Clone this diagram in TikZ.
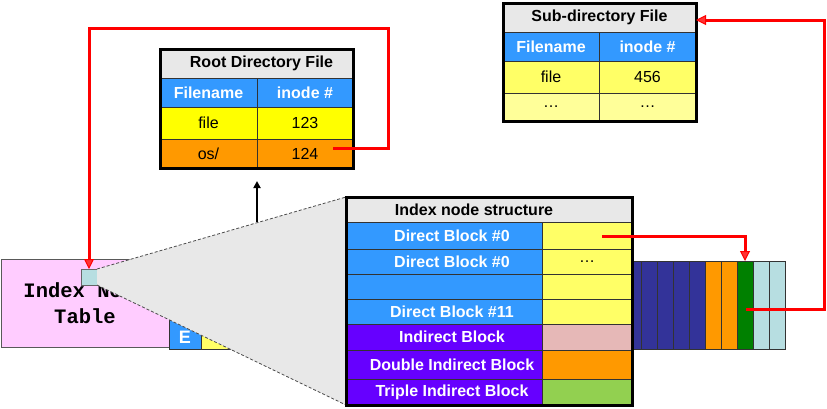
\documentclass[tikz,border=0pt]{standalone}
\usepackage{fontspec}
\setmainfont{Liberation Sans}
\newfontfamily\tablefont{Liberation Mono}
\usetikzlibrary{arrows.meta,positioning,calc}
\definecolor{cellblue}{HTML}{3399FF}
\definecolor{cellpurple}{HTML}{6600FF}
\definecolor{cellyellow}{HTML}{FFFF66}
\definecolor{rootyellow}{HTML}{FFFF00}
\definecolor{paleyellow}{HTML}{FFFF99}
\definecolor{cellpink}{HTML}{E6B8B7}
\definecolor{cellorange}{HTML}{FF9900}
\definecolor{cellgreen}{HTML}{92D050}
\definecolor{headgray}{HTML}{E8E8E8}
\definecolor{blockblue}{HTML}{333399}
\definecolor{blockgreen}{HTML}{008000}
\definecolor{blockcyan}{HTML}{B7DEE1}
\definecolor{tablepink}{HTML}{FFCCFF}
\definecolor{ptrred}{HTML}{FF0000}

\tikzset{
  cell/.style={draw=black!80, line width=0.8pt, inner sep=0pt, outer sep=0pt,
    font=\fontsize{16}{18}\selectfont},
  bcell/.style={cell, font=\fontsize{16}{18}\selectfont\bfseries},
  wcell/.style={bcell, text=white},
  frame/.style={draw=black, line width=3pt},
  ptr/.style={draw=ptrred, line width=3pt,
    -{Triangle[length=10pt,width=10pt,line width=1pt,fill=ptrred!80]}},
}

\begin{document}
\begin{tikzpicture}[x=1pt,y=-1pt]
\useasboundingbox (0,0) rectangle (827,408);

% --- Index node table (left) ---
\node[cell, draw=black!65, fill=tablepink, minimum width=168pt, minimum height=88pt, align=center,
  font=\fontsize{20.5}{26}\selectfont\tablefont\bfseries] (ipt) at (85,303) {Index Node\\Table};
\node[cell, fill=cellblue, minimum width=32pt, minimum height=88pt] (ecell) at (185,305) {};
\node[font=\fontsize{18}{20}\selectfont\bfseries, text=white] (etxt) at (185,337) {E};
\node[cell, fill=cellyellow, minimum width=32pt, minimum height=88pt] (ycell) at (217,305) {};

% selected entry
\node[cell, draw=black!60, line width=1pt, fill=blockcyan, minimum width=16pt, minimum height=16pt] (isq) at (89,277) {};

% --- Zoom cone ---
\coordinate (intl) at (346,197);
\coordinate (inbl) at (346,405);
\fill[headgray] (isq.north east) -- (intl) -- (inbl) -- (isq.south east) -- cycle;
\draw[black!70, line width=0.8pt, dash pattern=on 3pt off 2pt] (isq.north east) -- (intl);
\draw[black!70, line width=0.8pt, dash pattern=on 3pt off 2pt] (isq.south east) -- (inbl);

% --- Data blocks (right) ---
\foreach \c [count=\k from 0] in {blockblue,blockblue,blockblue,blockblue,blockblue,
                                  cellorange,cellorange,blockgreen,blockcyan,blockcyan} {
  \node[cell, fill=\c, minimum width=16pt, minimum height=88pt] (blk\k) at (633+16*\k,305) {};
}

% --- Index node structure ---
\node[bcell, fill=headgray, minimum width=286pt, minimum height=25pt] (inhead) at (489,209.5)
  {Index node structure\hspace*{30pt}};
\foreach \n/\yc/\h/\lc/\rc/\txt/\rtxt in {
    0/235.5/27/cellblue/cellyellow/{Direct Block \#0}/{},
    1/261.5/25/cellblue/cellyellow/{Direct Block \#0}/{\dots},
    2/286.5/25/cellblue/cellyellow/{}/{},
    3/311.5/25/cellblue/cellyellow/{Direct Block \#11}/{},
    4/337/26/cellpurple/cellpink/{Indirect Block}/{},
    5/364.5/29/cellpurple/cellorange/{Double Indirect Block}/{},
    6/392/26/cellpurple/cellgreen/{Triple Indirect Block}/{}} {
  \node[wcell, fill=\lc, minimum width=196pt, minimum height=\h pt] (in\n l) at (444,\yc) {\hspace*{16pt}\txt};
  \node[cell, fill=\rc, minimum width=90pt, minimum height=\h pt] (in\n r) at (587,\yc) {\rtxt};
}
\draw[frame] (inhead.north west) rectangle (in6r.south east);

% --- Root directory file ---
\node[bcell, fill=headgray, minimum width=193pt, minimum height=29pt] (rhead) at (256.5,63.5)
  {\hspace*{10pt}Root Directory File};
\node[wcell, fill=cellblue, minimum width=97pt, minimum height=29pt] (rfn) at (208.5,92.5) {Filename};
\node[wcell, fill=cellblue, minimum width=96pt, minimum height=29pt] (rin) at (305,92.5) {inode \#};
\node[cell, fill=rootyellow, minimum width=97pt, minimum height=32pt] (rfile) at (208.5,123) {file};
\node[cell, fill=rootyellow, minimum width=96pt, minimum height=32pt] (rfino) at (305,123) {123};
\node[cell, fill=cellorange, minimum width=97pt, minimum height=29pt] (ros) at (208.5,153.5) {os/};
\node[cell, fill=cellorange, minimum width=96pt, minimum height=29pt] (rosino) at (305,153.5) {124};
\draw[frame] (rhead.north west) rectangle (rosino.south east);

% --- Sub-directory file ---
\node[bcell, fill=headgray, minimum width=193pt, minimum height=29pt] (shead) at (599.5,17.5)
  {Sub-directory File};
\node[wcell, fill=cellblue, minimum width=96pt, minimum height=29pt] (sfn) at (551,46.5) {Filename};
\node[wcell, fill=cellblue, minimum width=97pt, minimum height=29pt] (sin) at (647.5,46.5) {inode \#};
\node[cell, fill=cellyellow, minimum width=96pt, minimum height=32pt] (sfile) at (551,77) {file};
\node[cell, fill=cellyellow, minimum width=97pt, minimum height=32pt] (sfino) at (647.5,77) {456};
\node[cell, fill=paleyellow, minimum width=96pt, minimum height=28pt] (smore) at (551,107) {\dots};
\node[cell, fill=paleyellow, minimum width=97pt, minimum height=28pt] (smoreino) at (647.5,107) {\dots};
\draw[frame] (shead.north west) rectangle (smoreino.south east);

% --- Arrows ---
\coordinate (upbase) at (257,222);
\draw[line width=2.5pt, -{Triangle[length=7pt,width=7pt]}] (upbase) -- ++(0,-41);

\coordinate (osptr) at (333,148);
\draw[ptr] (osptr) -- ++(55,0) -- ++(0,-120) -| (isq.north);

\coordinate (d0ptr) at (602,236);
\draw[ptr] (d0ptr) -| (blk7.north);

\coordinate (blkptr) at (746,309);
\draw[ptr] (blkptr) -- ++(78,0) |- ($(shead.east)+(0,2.5)$);
\end{tikzpicture}
\end{document}
